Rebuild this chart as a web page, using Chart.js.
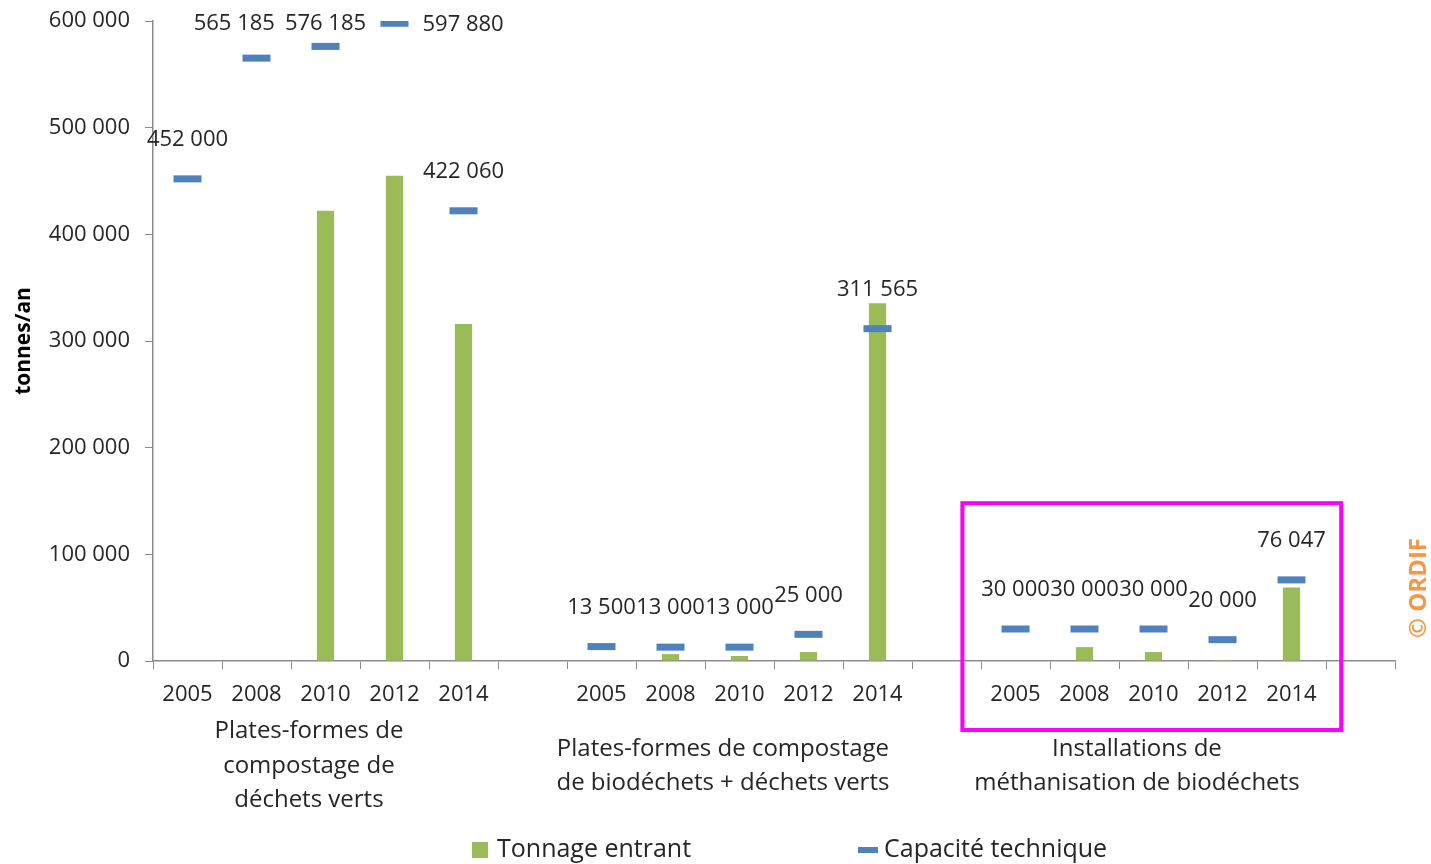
<!DOCTYPE html>
<html>
<head>
<meta charset="utf-8">
<script src="https://cdn.jsdelivr.net/npm/chart.js@4/dist/chart.umd.min.js"></script>
<style>
  body { margin: 0; background: #fff; }
  canvas { display: block; }
</style>
</head>
<body>
<canvas id="myChart" width="1431" height="864"></canvas>
<script>
// categories: 3 groups of 5 years, an empty slot after each group
var years = ['2005','2008','2010','2012','2014','',
             '2005','2008','2010','2012','2014','',
             '2005','2008','2010','2012','2014',''];
var groupNames = [
  ['Plates-formes de', 'compostage de', 'déchets verts'],
  ['Plates-formes de compostage', 'de biodéchets + déchets verts'],
  ['Installations de', 'méthanisation de biodéchets']
];
var groupCenters = [2, 8, 14];
var tonnage = [null, null, 422000, 455000, 316000, null,
               null, 6500, 4700, 8400, 335500, null,
               null, 13000, 8400, 1000, 69000, null];
var capacite = [452000, 565185, 576185, 597880, 422060, null,
                13500, 13000, 13000, 25000, 311565, null,
                30000, 30000, 30000, 20000, 76047, null];
var yTicks = [0, 100000, 200000, 300000, 400000, 500000, 600000];

var green = '#9BBB59', blue = '#4F81BD', axisGrey = '#8C8C8C', txt = '#262626';

function fmt(v) {
  return String(v).replace(/\B(?=(\d{3})+(?!\d))/g, ' ');
}

Chart.defaults.font.family = "'Open Sans', sans-serif";
Chart.defaults.color = txt;

var extras = {
  id: 'extras',
  afterDatasetsDraw: function(chart) {
    var ctx = chart.ctx, area = chart.chartArea;
    var xs = chart.scales.x, ys = chart.scales.y;
    var w = xs.getPixelForValue(1) - xs.getPixelForValue(0);
    ctx.save();
    // capacity value labels, pushed up from the marker; clamped ones at the top
    ctx.font = '22px "Open Sans"';
    ctx.fillStyle = txt;
    ctx.textBaseline = 'middle';
    var pts = chart.getDatasetMeta(0).data;
    var nextLeft = Infinity;
    for (var i = pts.length - 1; i >= 0; i--) {
      if (capacite[i] == null) continue;
      var p = pts[i], s = fmt(capacite[i]);
      var tw = ctx.measureText(s).width;
      if (p.y - area.top < 12) {
        ctx.textAlign = 'left';
        ctx.fillText(s, p.x + 28, p.y + 1);
        nextLeft = p.x - 14;
        continue;
      }
      var y = p.y - 39;
      var cx = p.x;
      if (y < area.top + 3) {
        y = area.top + 3;
        if (cx + tw / 2 > nextLeft - 10) cx = nextLeft - 10 - tw / 2;
        nextLeft = cx - tw / 2;
      } else {
        nextLeft = Infinity;
      }
      ctx.textAlign = 'center';
      ctx.fillText(s, cx, y);
    }
    // group labels under the years
    ctx.font = '24px "Open Sans"';
    ctx.textAlign = 'center';
    var lh = 34.5, mid = 766;
    groupNames.forEach(function(lines, g) {
      var gx = xs.getPixelForValue(groupCenters[g]) - 0.24 * w;
      var y0 = mid - (lines.length - 1) * lh / 2;
      lines.forEach(function(l, k) { ctx.fillText(l, gx, y0 + k * lh); });
    });
    // highlight box around the last group
    ctx.strokeStyle = '#FF00FF';
    ctx.lineWidth = 4;
    var bl = xs.getPixelForValue(12) - 0.77 * w;
    var br = xs.getPixelForValue(16) + 0.72 * w;
    var bt = ys.getPixelForValue(148000);
    ctx.strokeRect(bl, bt, br - bl, area.bottom + 69 - bt);
    // legend
    ctx.font = '25px "Open Sans"';
    ctx.textAlign = 'left';
    ctx.fillStyle = green;
    ctx.fillRect(472, 842, 16, 16);
    ctx.fillStyle = blue;
    ctx.fillRect(858, 847, 20, 6);
    ctx.fillStyle = txt;
    ctx.fillText(chart.data.datasets[1].label, 497, 850);
    ctx.fillText(chart.data.datasets[0].label, 884, 850);
    // copyright
    ctx.translate(1419, 588);
    ctx.rotate(-Math.PI / 2);
    ctx.font = 'bold 24px "Open Sans"';
    ctx.fillStyle = '#F79646';
    ctx.textAlign = 'center';
    ctx.fillText('© ORDIF', 0, 0);
    ctx.restore();
  }
};

new Chart('myChart', {
  data: {
    labels: years,
    datasets: [{
      type: 'line',
      label: 'Capacité technique',
      data: capacite,
      showLine: false,
      pointStyle: 'line',
      pointRadius: 14,
      pointHoverRadius: 14,
      pointBorderWidth: 7,
      pointBorderColor: blue,
      borderColor: blue,
      order: 0
    }, {
      type: 'bar',
      label: 'Tonnage entrant',
      data: tonnage,
      backgroundColor: green,
      categoryPercentage: 1,
      barPercentage: 0.25,
      order: 1
    }]
  },
  options: {
    responsive: false,
    animation: false,
    layout: { padding: { top: 19, right: 36, left: 0, bottom: 0 } },
    plugins: { legend: { display: false }, tooltip: { enabled: false } },
    scales: {
      x: {
        grid: { drawOnChartArea: false, color: axisGrey, tickLength: 8, offset: true },
        border: { color: axisGrey, width: 1.5 },
        ticks: { font: { size: 22 }, padding: 13, maxRotation: 0, autoSkip: false },
        afterFit: function(s) { s.height = 203; s.paddingLeft = 0; s.paddingRight = 0; }
      },
      y: {
        min: 0, max: 600000,
        afterBuildTicks: function(s) { s.ticks = yTicks.map(function(v) { return { value: v }; }); },
        grid: { drawOnChartArea: false, color: axisGrey, tickLength: 8 },
        border: { color: axisGrey, width: 1.5 },
        ticks: { font: { size: 22 }, padding: 15, callback: function(v) { return fmt(v); } },
        title: { display: true, text: 'tonnes/an', color: '#000',
                 font: { size: 21, weight: 'bold' }, padding: { top: 11, bottom: 0 } },
        afterFit: function(s) { s.width = 153; s.paddingTop = 0; s.paddingBottom = 0; }
      }
    }
  },
  plugins: [extras]
});
</script>
</body>
</html>
